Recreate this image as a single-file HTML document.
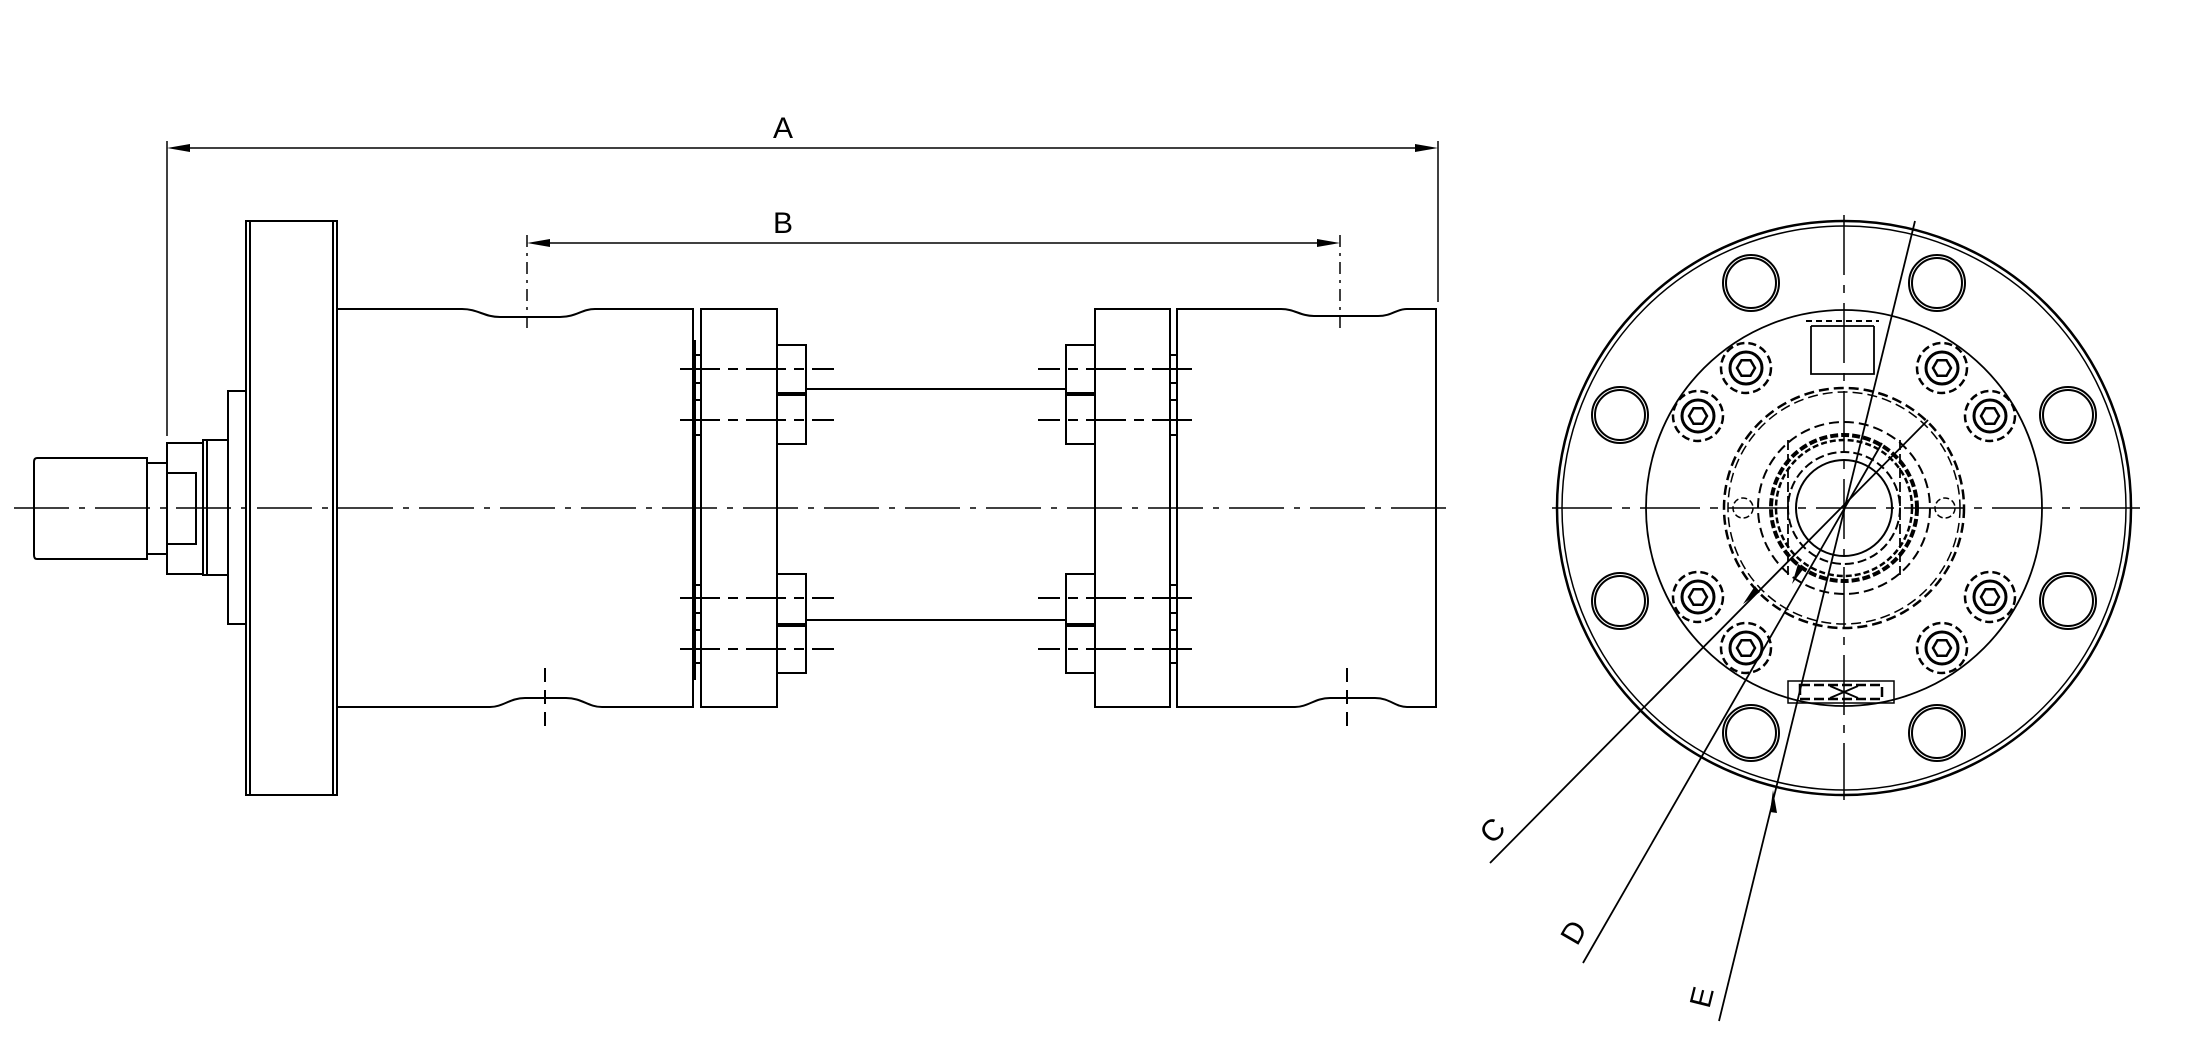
<!DOCTYPE html>
<html><head><meta charset="utf-8"><style>html,body{margin:0;padding:0;background:#fff}svg{display:block}</style></head>
<body>
<svg width="2200" height="1056" viewBox="0 0 2200 1056" xmlns="http://www.w3.org/2000/svg" font-family="Liberation Sans, sans-serif">
<defs>
<marker id="ar" viewBox="0 0 20 8" refX="20" refY="4" markerWidth="20" markerHeight="8" markerUnits="userSpaceOnUse" orient="auto"><path d="M0,1 L20,4 L0,7 Z" fill="#000"/></marker>
</defs>
<g fill="none" stroke="#000" stroke-width="2">
<!-- Dimensions -->
<line x1="167" y1="141" x2="167" y2="436" stroke-width="1.5"/>
<line x1="1438" y1="141" x2="1438" y2="302" stroke-width="1.5"/>
<line x1="190" y1="148" x2="1418" y2="148" stroke-width="1.5"/>
<path d="M167,148 L190,144 L190,152 Z M1438,148 L1415,144 L1415,152 Z" fill="#000" stroke="none"/>
<line x1="527" y1="235" x2="527" y2="332" stroke-width="1.5" stroke-dasharray="12,6,3,6"/>
<line x1="1340" y1="235" x2="1340" y2="332" stroke-width="1.5" stroke-dasharray="12,6,3,6"/>
<line x1="548" y1="243" x2="1320" y2="243" stroke-width="1.5"/>
<path d="M527,243 L550,239 L550,247 Z M1340,243 L1317,239 L1317,247 Z" fill="#000" stroke="none"/>
<!-- centerline -->
<line x1="14" y1="508" x2="1456" y2="508" stroke-width="1.5" stroke-dasharray="55,10,6,10"/>
<!-- shaft -->
<path d="M37,458 H147 V559 H37 Q34,559 34,555 V462 Q34,458 37,458 Z"/>
<rect x="147" y="463" width="20" height="91"/>
<rect x="167" y="443" width="36" height="131"/>
<rect x="167" y="473" width="29" height="71"/>
<rect x="203" y="440" width="25" height="135"/>
<line x1="207" y1="440" x2="207" y2="575"/>
<rect x="228" y="391" width="18" height="233"/>
<!-- flange -->
<rect x="246" y="221" width="91" height="574"/>
<line x1="250" y1="221" x2="250" y2="795"/>
<line x1="333" y1="221" x2="333" y2="795"/>
<!-- body 1 -->
<path d="M337,309 H462 C478,309 484,317 500,317 H560 C576,317 582,309 595,309 H693 V707 H602 C588,707 582,698 566,698 H525 C510,698 503,707 490,707 H337"/>
<line x1="545" y1="668" x2="545" y2="728" stroke-dasharray="14,8"/>
<!-- plate 1 -->
<rect x="701" y="309" width="76" height="398"/>
<line x1="695" y1="340" x2="695" y2="680"/>
<g stroke-width="2">
<line x1="693" y1="355" x2="701" y2="355"/><line x1="693" y1="383" x2="701" y2="383"/><line x1="693" y1="400" x2="701" y2="400"/><line x1="693" y1="435" x2="701" y2="435"/>
<line x1="693" y1="585" x2="701" y2="585"/><line x1="693" y1="613" x2="701" y2="613"/><line x1="693" y1="630" x2="701" y2="630"/><line x1="693" y1="663" x2="701" y2="663"/>
</g>
<!-- nuts plate 1 -->
<rect x="777" y="345" width="29" height="99"/>
<line x1="777" y1="394" x2="806" y2="394" stroke-width="4"/>
<rect x="777" y="574" width="29" height="99"/>
<line x1="777" y1="625" x2="806" y2="625" stroke-width="4"/>
<!-- rods -->
<line x1="806" y1="389" x2="1065" y2="389"/>
<line x1="806" y1="620" x2="1065" y2="620"/>
<!-- bolt centerlines -->
<g stroke-dasharray="40,8,10,8">
<line x1="680" y1="369" x2="834" y2="369"/><line x1="680" y1="420" x2="834" y2="420"/>
<line x1="680" y1="598" x2="834" y2="598"/><line x1="680" y1="649" x2="834" y2="649"/>
</g>
<g stroke-dasharray="40,8,10,8">
<line x1="1192" y1="369" x2="1038" y2="369"/><line x1="1192" y1="420" x2="1038" y2="420"/>
<line x1="1192" y1="598" x2="1038" y2="598"/><line x1="1192" y1="649" x2="1038" y2="649"/>
</g>
<!-- nuts plate 2 -->
<rect x="1066" y="345" width="29" height="99"/>
<line x1="1066" y1="394" x2="1095" y2="394" stroke-width="4"/>
<rect x="1066" y="574" width="29" height="99"/>
<line x1="1066" y1="625" x2="1095" y2="625" stroke-width="4"/>
<!-- plate 2 -->
<rect x="1095" y="309" width="75" height="398"/>
<line x1="1177" y1="340" x2="1177" y2="680"/>
<g>
<line x1="1170" y1="355" x2="1177" y2="355"/><line x1="1170" y1="383" x2="1177" y2="383"/><line x1="1170" y1="400" x2="1177" y2="400"/><line x1="1170" y1="435" x2="1177" y2="435"/>
<line x1="1170" y1="585" x2="1177" y2="585"/><line x1="1170" y1="613" x2="1177" y2="613"/><line x1="1170" y1="630" x2="1177" y2="630"/><line x1="1170" y1="663" x2="1177" y2="663"/>
</g>
<!-- body 2 -->
<path d="M1177,309 H1281 C1295,309 1300,316 1314,316 H1378 C1392,316 1396,309 1407,309 H1436 V707 H1407 C1395,707 1390,698 1375,698 H1330 C1315,698 1308,707 1295,707 H1177 Z"/>
<line x1="1347" y1="668" x2="1347" y2="728" stroke-dasharray="14,8"/>

<!-- RIGHT VIEW -->
<circle cx="1844" cy="508" r="287" stroke-width="2.5"/>
<circle cx="1844" cy="508" r="282" stroke-width="1.5"/>
<circle cx="1844" cy="508" r="198" stroke-width="1.8"/>
<line x1="1552" y1="508" x2="2140" y2="508" stroke-width="1.5" stroke-dasharray="60,10,8,10"/>
<line x1="1844" y1="215" x2="1844" y2="800" stroke-width="1.5" stroke-dasharray="60,10,8,10"/>
<!-- big holes -->
<g stroke-width="2">
<circle cx="1751" cy="283" r="28"/><circle cx="1751" cy="283" r="25"/>
<circle cx="1937" cy="283" r="28"/><circle cx="1937" cy="283" r="25"/>
<circle cx="1620" cy="415" r="28"/><circle cx="1620" cy="415" r="25"/>
<circle cx="2068" cy="415" r="28"/><circle cx="2068" cy="415" r="25"/>
<circle cx="1620" cy="601" r="28"/><circle cx="1620" cy="601" r="25"/>
<circle cx="2068" cy="601" r="28"/><circle cx="2068" cy="601" r="25"/>
<circle cx="1751" cy="733" r="28"/><circle cx="1751" cy="733" r="25"/>
<circle cx="1937" cy="733" r="28"/><circle cx="1937" cy="733" r="25"/>
</g>
<!-- socket bolts -->
<g id="sb">
<circle cx="1746" cy="368" r="25" stroke-width="2.5" stroke-dasharray="8,4"/>
<circle cx="1746" cy="368" r="16" stroke-width="3"/>
<polygon points="1755,368 1750.5,375.8 1741.5,375.8 1737,368 1741.5,360.2 1750.5,360.2" stroke-width="2.5"/>
</g>
<use href="#sb" transform="translate(196,0)"/>
<use href="#sb" transform="translate(-48,48)"/>
<use href="#sb" transform="translate(244,48)"/>
<use href="#sb" transform="translate(-48,229)"/>
<use href="#sb" transform="translate(244,229)"/>
<use href="#sb" transform="translate(0,280)"/>
<use href="#sb" transform="translate(196,280)"/>
<!-- top port -->
<path d="M1806,321 H1879" stroke-dasharray="6,4" stroke-width="2"/>
<path d="M1811,326 H1874 M1811,326 V374 H1874 V326" stroke-width="1.8"/>
<!-- bottom port -->
<rect x="1788" y="681" width="106" height="22" stroke-width="1.5"/>
<rect x="1800" y="685" width="82" height="14" stroke-width="2.5" stroke-dasharray="10,4"/>
<path d="M1830,686 L1858,698 M1858,686 L1830,698" stroke-width="2"/>
<!-- central circles -->
<circle cx="1844" cy="508" r="120" stroke-width="2.5" stroke-dasharray="10,5"/>
<circle cx="1844" cy="508" r="116" stroke-width="1.5" stroke-dasharray="10,5"/>
<circle cx="1844" cy="508" r="86" stroke-width="2" stroke-dasharray="10,5"/>
<circle cx="1844" cy="508" r="73" stroke-width="4" stroke-dasharray="8,3"/>
<circle cx="1844" cy="508" r="68" stroke-width="2.5" stroke-dasharray="6,3"/>
<circle cx="1844" cy="508" r="56" stroke-width="2" stroke-dasharray="9,4"/>
<circle cx="1844" cy="508" r="48" stroke-width="2"/>
<line x1="1788" y1="440" x2="1788" y2="575" stroke-width="1.8" stroke-dasharray="10,4"/>
<line x1="1900" y1="440" x2="1900" y2="575" stroke-width="1.8" stroke-dasharray="10,4"/>
<circle cx="1743" cy="508" r="10" stroke-width="1.5" stroke-dasharray="6,3"/>
<circle cx="1945" cy="508" r="10" stroke-width="1.5" stroke-dasharray="6,3"/>
<!-- leaders -->
<line x1="1490" y1="863" x2="1928" y2="420" stroke-width="1.8"/>
<line x1="1583" y1="963" x2="1882" y2="443" stroke-width="1.8"/>
<line x1="1719" y1="1021" x2="1915" y2="221" stroke-width="1.8"/>
</g>
<path d="M1743,604 L1755,586 L1760,592 Z" fill="#000"/>
<path d="M1792,584 L1798,564 L1804,568 Z" fill="#000"/>
<path d="M1773,790 L1770,812 L1777,813 Z" fill="#000"/>
<g font-size="30" fill="#000" text-anchor="middle">
<text x="783" y="138">A</text>
<text x="783" y="233">B</text>
<text x="0" y="0" transform="translate(1492,830) rotate(-46) translate(0,11)">C</text>
<text x="0" y="0" transform="translate(1573,932) rotate(-60) translate(0,11)">D</text>
<text x="0" y="0" transform="translate(1701,997) rotate(-76) translate(0,11)">E</text>
</g>
</svg>
</body></html>
